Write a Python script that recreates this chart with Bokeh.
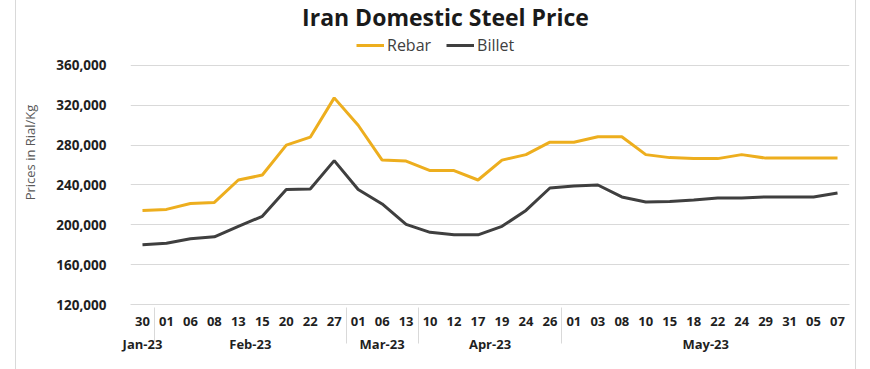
from bokeh.plotting import figure
from bokeh.models import (FactorRange, Range1d, FixedTicker, NumeralTickFormatter,
                          Legend, LegendItem, Label)
from bokeh.embed import file_html
from bokeh.resources import INLINE

months = ["Jan-23"] + ["Feb-23"] * 8 + ["Mar-23"] * 3 + ["Apr-23"] * 6 + ["May-23"] * 12
days = ["30", "01", "06", "08", "13", "15", "20", "22", "27",
        "01", "06", "13",
        "10", "12", "17", "19", "24", "26",
        "01", "03", "08", "10", "15", "18", "22", "24", "29", "31", "05", "07"]
rebar = [214500, 215500, 221500, 222500, 245000, 250000, 280000, 288000, 327500,
         300000, 265000, 264000,
         254500, 254500, 245000, 265000, 270500, 283000,
         283000, 288500, 288500, 270500, 267500, 266500, 266500, 270500, 267000, 267000, 267000, 267000]
billet = [180000, 181500, 186000, 188000, 198500, 208500, 235500, 236000, 264500,
          235500, 221000, 200500,
          192500, 190000, 190000, 198500, 214500, 237000,
          239000, 240000, 228000, 223000, 223500, 225000, 227000, 227000, 228000, 228000, 228000, 232000]
y_ticks = [120000, 160000, 200000, 240000, 280000, 320000, 360000]

factors = list(zip(months, days))

p = figure(width=841, height=369, output_backend="svg", toolbar_location=None,
           x_range=FactorRange(*factors, group_padding=0, factor_padding=0, range_padding=0),
           y_range=Range1d(120000, 425270),
           min_border_left=114, min_border_right=8, min_border_top=0, min_border_bottom=65,
           margin=(0, 0, 0, 15),
           styles={"border-left": "1px solid #d9d9d9", "border-right": "1px solid #d9d9d9"})
p.outline_line_color = None
p.background_fill_color = "white"
p.border_fill_color = "white"

r1 = p.line(x=factors, y=rebar, line_color="#EDAE1E", line_width=3)
r2 = p.line(x=factors, y=billet, line_color="#3F3F3F", line_width=3)

p.xgrid.grid_line_color = None
p.ygrid.grid_line_color = "#d9d9d9"
p.ygrid.grid_line_width = 1

ya = p.yaxis[0]
ya.ticker = FixedTicker(ticks=y_ticks)
ya.formatter = NumeralTickFormatter(format="0,0")
ya.axis_line_color = None
ya.major_tick_line_color = None
ya.minor_tick_line_color = None
ya.major_label_text_font = "Open Sans"
ya.major_label_text_font_style = "bold"
ya.major_label_text_font_size = "13.5px"
ya.major_label_text_color = "#1f1f1f"
ya.major_label_standoff = 18
ya.axis_label = "Prices in Rial/Kg"
ya.axis_label_text_font = "Open Sans"
ya.axis_label_text_font_style = "normal"
ya.axis_label_text_font_size = "13px"
ya.axis_label_text_color = "#595959"
ya.axis_label_standoff = 14

xa = p.xaxis[0]
xa.axis_line_color = "#d9d9d9"
xa.major_tick_line_color = None
xa.minor_tick_line_color = None
xa.major_label_text_font = "Open Sans"
xa.major_label_text_font_style = "bold"
xa.major_label_text_font_size = "13px"
xa.major_label_text_color = "#1f1f1f"
xa.major_label_standoff = 6
xa.group_text_font = "Open Sans"
xa.group_text_font_style = "bold"
xa.group_text_font_size = "13px"
xa.group_text_color = "#1f1f1f"
xa.separator_line_color = "#d9d9d9"
xa.separator_line_width = 1

legend = Legend(items=[LegendItem(label="Rebar", renderers=[r1]),
                       LegendItem(label="Billet", renderers=[r2])],
                orientation="horizontal", location=(226, 248),
                padding=0, margin=0, spacing=15, label_standoff=3,
                glyph_width=28, glyph_height=20,
                label_text_font="Open Sans", label_text_font_size="16px",
                label_text_color="#404040", border_line_color=None,
                background_fill_alpha=0)
p.add_layout(legend, "center")

title = Label(x=315, y=288, x_units="screen", y_units="screen",
              text="Iran Domestic Steel Price", text_align="center",
              text_baseline="alphabetic", text_font="Open Sans",
              text_font_style="bold", text_font_size="23px", text_color="#1a1a1a")
p.add_layout(title)

open("out.html", "w").write(file_html(p, INLINE))
